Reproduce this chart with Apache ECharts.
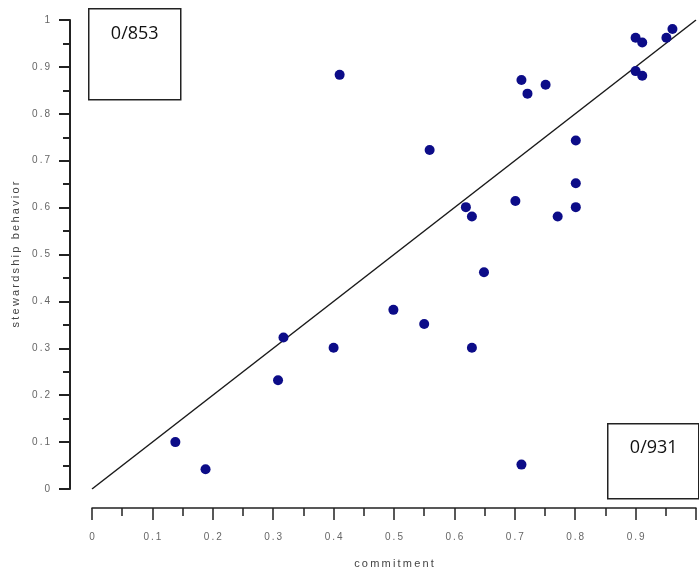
<!DOCTYPE html>
<html>
<head>
<meta charset="utf-8">
<script src="https://cdn.jsdelivr.net/npm/echarts@6/dist/echarts.min.js"></script>
<style>
  html, body { margin: 0; padding: 0; background: #fff; }
  #chart { width: 699px; height: 576px; }
</style>
</head>
<body>
<div id="chart"></div>
<script>
// data
var commitment = [0.138, 0.188, 0.308, 0.317, 0.400, 0.410, 0.499, 0.550, 0.559, 0.619,
  0.629, 0.629, 0.649, 0.701, 0.711, 0.711, 0.721, 0.751, 0.771, 0.801,
  0.801, 0.801, 0.900, 0.911, 0.900, 0.911, 0.951, 0.961];
var stewardship = [0.100, 0.042, 0.232, 0.323, 0.301, 0.883, 0.382, 0.352, 0.723, 0.601,
  0.581, 0.301, 0.462, 0.614, 0.052, 0.872, 0.843, 0.862, 0.581, 0.743,
  0.652, 0.601, 0.962, 0.952, 0.891, 0.881, 0.962, 0.981];
var fitLine = [[0, 0], [1, 1]];
var boxLabels = ['0/853', '0/931'];

var points = commitment.map(function(x, i) { return [x, stewardship[i]]; });

// spaced out text like the original plot
function spaced(s) {
  return String(s).split('').join('\u2009');
}

var myChart = echarts.init(document.getElementById('chart'));

var labelStyle = {
  color: '#666',
  fontFamily: 'Liberation Sans',
  fontSize: 10
};

var option = {
  animation: false,
  grid: { left: 92, top: 20, width: 609, height: 469 },
  xAxis: {
    type: 'value',
    min: 0,
    max: 1,
    interval: 0.1,
    offset: 19,
    name: spaced('commitment'),
    nameLocation: 'middle',
    nameGap: 50,
    nameTextStyle: { color: '#444', fontFamily: 'Liberation Sans', fontSize: 11 },
    axisLine: { onZero: false, lineStyle: { color: '#222', width: 1.5 } },
    axisTick: { length: 12, lineStyle: { color: '#222', width: 1.5 } },
    minorTick: { show: true, splitNumber: 2, length: 8, lineStyle: { color: '#222', width: 1.5 } },
    splitLine: { show: false },
    axisLabel: Object.assign({
      margin: 24,
      formatter: function(v) { return v >= 1 ? '' : spaced(+v.toFixed(1)); }
    }, labelStyle)
  },
  yAxis: {
    type: 'value',
    min: 0,
    max: 1,
    interval: 0.1,
    offset: 22,
    name: spaced('stewardship behavior'),
    nameLocation: 'middle',
    nameGap: 44,
    nameTextStyle: { color: '#444', fontFamily: 'Liberation Sans', fontSize: 11 },
    axisLine: { show: true, onZero: false, lineStyle: { color: '#222', width: 2 } },
    axisTick: { show: true, length: 11, lineStyle: { color: '#222', width: 2 } },
    minorTick: { show: true, splitNumber: 2, length: 7, lineStyle: { color: '#222', width: 2 } },
    splitLine: { show: false },
    axisLabel: Object.assign({
      margin: 20,
      formatter: function(v) { return spaced(+v.toFixed(1)); }
    }, labelStyle)
  },
  series: [{
    type: 'line',
    data: fitLine,
    showSymbol: false,
    lineStyle: { color: '#1a1a1a', width: 1.5 },
    z: 2
  }, {
    type: 'scatter',
    data: points,
    symbolSize: 10,
    itemStyle: { color: '#0c0c88', opacity: 1 },
    z: 3
  }],
  graphic: [{
    type: 'group',
    left: 88,
    top: 8,
    z: 10,
    children: [{
      type: 'rect',
      shape: { x: 0, y: 0, width: 92, height: 91 },
      style: { fill: '#fff', stroke: '#222', lineWidth: 1.5 }
    }, {
      type: 'text',
      x: 46,
      y: 25,
      style: { text: boxLabels[0], fill: '#111', font: '18px "Open Sans"', align: 'center', verticalAlign: 'middle' }
    }]
  }, {
    type: 'group',
    left: 607,
    top: 423,
    z: 10,
    children: [{
      type: 'rect',
      shape: { x: 0, y: 0, width: 91, height: 75 },
      style: { fill: '#fff', stroke: '#222', lineWidth: 1.5 }
    }, {
      type: 'text',
      x: 46,
      y: 24,
      style: { text: boxLabels[1], fill: '#111', font: '18px "Open Sans"', align: 'center', verticalAlign: 'middle' }
    }]
  }]
};

myChart.setOption(option);
</script>
</body>
</html>
